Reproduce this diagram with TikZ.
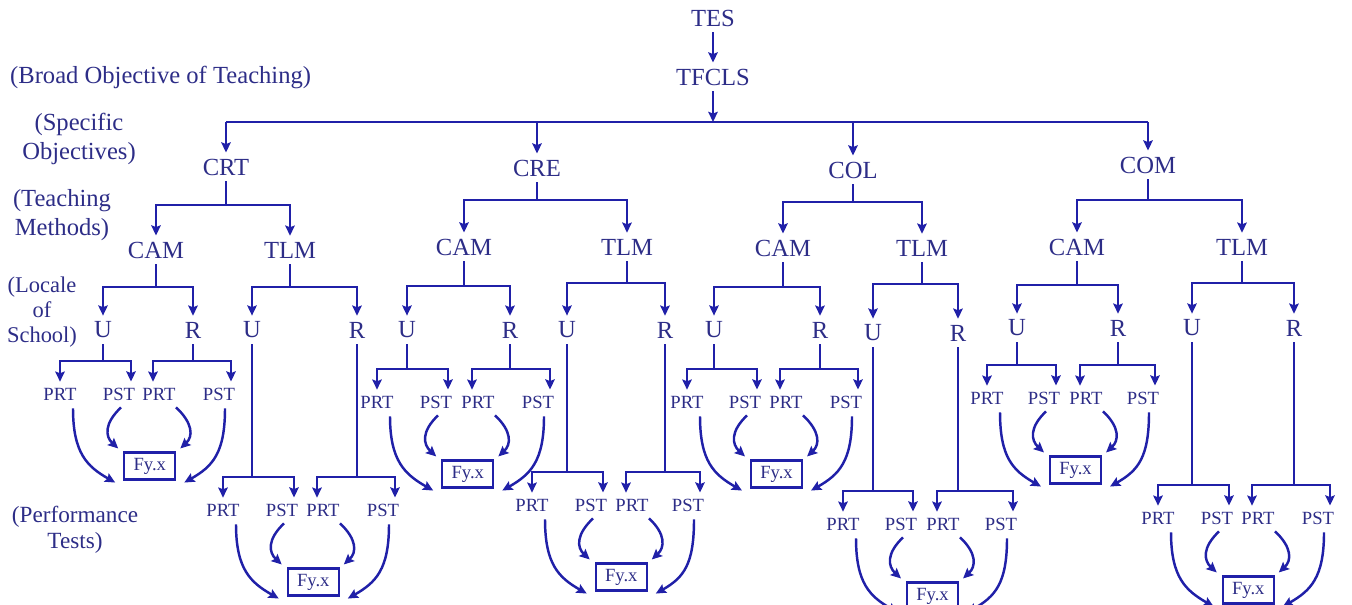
\documentclass[tikz,border=0pt]{standalone}
\usepackage{fontspec}
\setmainfont{Liberation Serif}
\usetikzlibrary{arrows.meta, calc}

\definecolor{inkblue}{RGB}{45,45,135}
\definecolor{lineblue}{RGB}{32,32,168}

\begin{document}
\begin{tikzpicture}[
  x=0.02cm, y=-0.02cm,
  lbl/.style={font=\fontsize{14}{16.5}\selectfont, text=inkblue},
  sidelbl/.style={lbl, align=center},
  leaf/.style={font=\fontsize{10.6}{12}\selectfont, text=inkblue},
  fybox/.style={draw=lineblue, line width=1.2pt, minimum width=1.02cm, minimum height=0.54cm, inner sep=0pt, font=\fontsize{10.6}{12}\selectfont, text=inkblue},
  wire/.style={lineblue, line width=1.4pt},
  arr/.style={wire, -{Stealth[length=5.8pt, width=5.4pt, inset=1pt]}},
]
  \useasboundingbox (0,0) rectangle (1352,605);

  % Level captions
  \node[lbl, anchor=west] (broad) at (4,77) {(Broad Objective of Teaching)};
  \node[sidelbl] (specific) at (79,139) {(Specific\\Objectives)};
  \node[sidelbl] (teaching) at (62,215) {(Teaching\\Methods)};
  \node[sidelbl, font=\fontsize{12.8}{14.3}\selectfont] (locale) at (42,312) {(Locale\\of\\School)};
  \node[sidelbl, font=\fontsize{13.2}{14.8}\selectfont] (perf) at (75,530) {(Performance\\Tests)};

  % Root
  \node[lbl] (tes) at (713,18) {TES};
  \node[lbl] (tfcls) at (713,77) {TFCLS};
  \draw[arr] (tes) -- (tfcls);

  % Specific objectives
  \node[lbl] (crt) at (226,167) {CRT};
  \node[lbl] (cre) at (537,168) {CRE};
  \node[lbl] (col) at (853,170) {COL};
  \node[lbl] (com) at (1148,165) {COM};

  \coordinate (objbus) at (0,122);
  \draw[wire] (crt.north |- objbus) -- (com.north |- objbus);
  \draw[arr] (tfcls) -- (tfcls |- objbus);
  \foreach \n in {crt,cre,col,com}
    \draw[arr] (\n.north |- objbus) -- (\n);

  % Teaching methods
  \node[lbl] (crt-cam) at (156,250) {CAM};
  \node[lbl] (crt-tlm) at (290,250) {TLM};
  \node[lbl] (cre-cam) at (464,247) {CAM};
  \node[lbl] (cre-tlm) at (627,247) {TLM};
  \node[lbl] (col-cam) at (783,248) {CAM};
  \node[lbl] (col-tlm) at (922,248) {TLM};
  \node[lbl] (com-cam) at (1077,247) {CAM};
  \node[lbl] (com-tlm) at (1242,247) {TLM};

  \foreach \n/\by in {crt/205, cre/200, col/202, com/200} {
    \draw[arr] (\n) -- (\n |- 0,\by) -| (\n-cam);
    \draw[arr] (\n) -- (\n |- 0,\by) -| (\n-tlm);
  }

  % Locale of school and performance tests
  \foreach \m/\ux/\rx/\ly/\lb/\vy/\pa/\pb/\pc/\pd in {
      crt-cam/103/193/330/287/361/60/131/153/231,
      crt-tlm/252/357/330/287/477/223/294/317/395,
      cre-cam/407/510/330/286/369/377/448/472/550,
      cre-tlm/567/665/330/283/472/532/603/626/700,
      col-cam/714/820/330/287/369/687/757/780/858,
      col-tlm/873/958/333/284/491/843/913/937/1013,
      com-cam/1017/1118/328/285/365/987/1056/1080/1155,
      com-tlm/1192/1294/328/283/485/1158/1229/1252/1330} {
    \node[lbl] (\m-u) at (\ux,\ly) {U};
    \node[lbl] (\m-r) at (\rx,\ly) {R};
    \draw[arr] (\m) -- (\m |- 0,\lb) -| (\m-u);
    \draw[arr] (\m) -- (\m |- 0,\lb) -| (\m-r);

    \node[leaf] (\m-u-prt) at (\pa,\vy+33) {PRT};
    \node[leaf] (\m-u-pst) at (\pb-12,\vy+33) {PST};
    \node[leaf] (\m-r-prt) at (\pc+6,\vy+33) {PRT};
    \node[leaf] (\m-r-pst) at (\pd-12,\vy+33) {PST};
    \draw[arr] (\m-u) -- (\m-u |- 0,\vy) -| (\m-u-prt);
    \draw[arr] (\m-u) -- (\m-u |- 0,\vy) -| ([xshift=0.24cm]\m-u-pst.north);
    \draw[arr] (\m-r) -- (\m-r |- 0,\vy) -| ([xshift=-0.12cm]\m-r-prt.north);
    \draw[arr] (\m-r) -- (\m-r |- 0,\vy) -| ([xshift=0.24cm]\m-r-pst.north);

    \pgfmathsetmacro\fx{(\pa+\pb+\pc+\pd)/4+6}
    \node[fybox] (\m-fy) at (\fx,\vy+105) {Fy.x};
    \draw[arr] ($(\m-u-prt.south)+(13,2)$) .. controls +(0,45) and +(-28,-16) .. ($(\m-fy.south west)+(-8,2)$);
    \draw[arr] ($(\m-u-pst.south)+(2,1)$) .. controls +(-17,16) and +(-13,-12) .. ($(\m-fy.north west)+(-5,-3)$);
    \draw[arr] ($(\m-r-prt.south)+(17,1)$) .. controls +(17,16) and +(13,-12) .. ($(\m-fy.north east)+(4,-3)$);
    \draw[arr] ($(\m-r-pst.south)+(6,2)$) .. controls +(0,45) and +(28,-16) .. ($(\m-fy.south east)+(8,2)$);
  }
\end{tikzpicture}
\end{document}
